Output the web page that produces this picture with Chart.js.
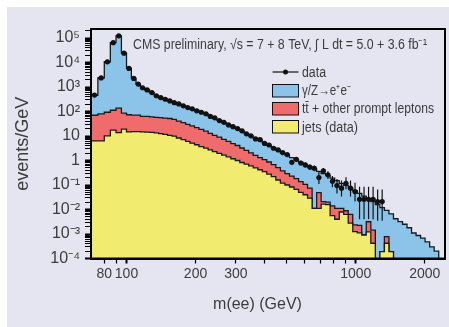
<!DOCTYPE html>
<html>
<head>
<meta charset="utf-8">
<title>Dielectron invariant mass</title>
<script src="https://cdn.jsdelivr.net/npm/chart.js@4.4.1/dist/chart.umd.min.js"></script>
<style>
  html, body { margin: 0; padding: 0; background: #fff; }
  #wrap { width: 449px; height: 327px; }
</style>
</head>
<body>
<div id="wrap"><canvas id="massChart" width="449" height="327"></canvas></div>
<script>
// bin edges of the mass histogram (GeV)
const massEdges = [70, 75, 80, 85, 90, 95, 100, 105, 110, 115, 120, 126, 132, 138, 144, 151, 158, 165, 173, 181,
  189, 198, 207, 217, 227, 237, 248, 260, 272, 285, 298, 312, 326, 341, 357, 374, 391, 409, 428, 448,
  469, 491, 514, 538, 563, 589, 616, 645, 675, 706, 739, 773, 809, 847, 886, 927, 970, 1015, 1062, 1111,
  1163, 1217, 1274, 1333, 1395, 1460, 1528, 1599, 1673, 1751, 1832, 1917, 2006, 2100, 2198, 2300];

// events / GeV per bin, one value per bin
const jets = [6.3, 6.3, 10.2, 17.4, 13.8, 19.1, 14.8, 15.1, 15.1, 14.8,
  14.5, 14.1, 13.5, 12.6, 11.7, 10.7, 9.8, 8.3, 7.1, 6.0,
  5.1, 4.4, 3.7, 3.2, 2.7, 2.3, 1.95, 1.66, 1.41, 1.18,
  1.0, 0.83, 0.71, 0.60, 0.50, 0.42, 0.35, 0.28, 0.22, 0.16,
  0.12, 0.10, 0.083, 0.066, 0.050, 0.040, 0.029, 0.0112, 0.0112, 0.0166,
  0.0158, 0.0056, 0.0040, 0.0079, 0.0063, 0.0028, 0.00126, 0.00112, 0.00091, 0.00123,
  0.00042, 0, 0.00019, 0.00042, 0.00019, 0, 0, 0, 0, 0,
  0, 0, 0, 0, 0];

const ttbar = [64, 73, 83, 95, 124, 66, 59, 56, 56, 48,
  49, 46, 44, 44, 42, 41, 38, 32, 28, 24,
  21, 17.5, 14.9, 12.6, 10.2, 8.4, 7.0, 5.6, 4.6, 3.7,
  3.1, 2.4, 1.86, 1.44, 1.12, 0.90, 0.73, 0.59, 0.46, 0.35,
  0.26, 0.19, 0.146, 0.116, 0.088, 0.067, 0.045, 0, 0.038, 0.0043,
  0.0042, 0.0085, 0.0072, 0.0033, 0.0026, 0.0035, 0.00108, 0.00112, 0, 0.00193,
  0.00103, 0, 0, 0.00036, 0, 0, 0, 0, 0, 0,
  0, 0, 0, 0, 0];

const dyee = [400, 2260, 10630, 64500, 122900, 23900, 5680, 2170, 1250, 870,
  700, 530, 380, 316, 262, 218, 181, 159, 135, 118,
  100, 88, 75, 64, 52, 43, 35, 28, 23, 18.5,
  15.9, 12.6, 10.0, 8.0, 6.3, 5.6, 4.2, 3.3, 2.6, 2.1,
  1.62, 1.37, 1.09, 0.87, 0.69, 0.57, 0.48, 0.43, 0.31, 0.27,
  0.22, 0.177, 0.140, 0.106, 0.087, 0.070, 0.057, 0.043, 0.034, 0.024,
  0.0195, 0.0158, 0.0118, 0.0085, 0.0064, 0.0042, 0.0032, 0.0025, 0.0018, 0.0011,
  0.00087, 0.00068, 0.00048, 0.0003, 0.0002];

const dataVals = [470, 2340, 10700, 64600, 123000, 24000, 5750, 2240, 1320, 930,
  760, 590, 440, 370, 316, 270, 229, 204, 170, 145,
  129, 107, 93, 81, 63, 55, 42.7, 36.3, 28.2, 24,
  20, 16.2, 12.3, 10.2, 7.6, 7.1, 5.0, 4.3, 3.16, 2.7,
  2.1, 1.74, 0.85, 1.12, 0.79, 0.66, 0.54, 0.48, 0.20, 0.38,
  0.26, 0.141, 0.095, 0.074, 0.117, 0.074, 0.054, 0.026, 0.026, 0.026,
  0.026, 0.021, 0.021, null, null, null, null, null, null, null,
  null, null, null, null, null];

// error bars are only visible from this bin on
const firstErrBin = 36;
const dataErrHi = [0.55, 0.5, 0.42, 0.38, 0.33, 0.3, 0.21, 0.23, 0.19, 0.17, 0.15, 0.14, 0.17, 0.12,
  0.1, 0.09, 0.08, 0.08, 0.09, 0.08, 0.07, 0.059, 0.059, 0.059, 0.059, 0.045, 0.045];
const dataErrLo = [0.5, 0.45, 0.38, 0.34, 0.29, 0.26, 0.18, 0.2, 0.16, 0.14, 0.13, 0.12, 0.09, 0.1,
  0.085, 0.06, 0.05, 0.04, 0.05, 0.04, 0.033, 0.022, 0.022, 0.022, 0.022, 0.0175, 0.0175];

const yMajorTicks = [1e-4, 1e-3, 1e-2, 1e-1, 1, 10, 1e2, 1e3, 1e4, 1e5];
const yTickLabels = ['10⁻⁴', '10⁻³', '10⁻²', '10⁻¹', '1', '10', '10²', '10³', '10⁴', '10⁵'];
const xTickValues = [80, 90, 100, 200, 300, 400, 500, 600, 700, 800, 900, 1000, 2000];
const xLabelValues = [80, 100, 200, 300, 1000, 2000];
const xTickLabels = ['80', '100', '200', '300', '1000', '2000'];

const legendLabels = ['data', 'γ/Z→e⁺e⁻', 'tt̄ + other prompt leptons', 'jets (data)'];
const headerText = 'CMS preliminary, √s = 7 + 8 TeV, ∫ L dt = 5.0 + 3.6 fb⁻¹';

const colBlue = '#8cc4e9';
const colRed = '#f06c6c';
const colYellow = '#f1eb70';
const colBack = '#e4e5f1';
const colText = '#3c3c3c';

const xMin = 70, xMax = 2450, yMin = 1e-4, yMax = 2.33e5;
const floorVal = 1e-7; // below the axis, used for empty bins

const nBins = massEdges.length - 1;
const cumJets = jets.slice();
const cumLep = jets.map((v, i) => v + ttbar[i]);
const cumAll = cumLep.map((v, i) => v + dyee[i]);

function stepPoints(values) {
  const pts = values.map((v, i) => ({ x: massEdges[i], y: Math.max(v, floorVal) }));
  pts.push({ x: massEdges[nBins], y: floorVal });
  return pts;
}

const dataPoints = [];
dataVals.forEach((v, i) => {
  if (v !== null) dataPoints.push({ x: (massEdges[i] + massEdges[i + 1]) / 2, y: v });
});

const yTickValues = [];
yMajorTicks.forEach((m) => {
  for (let k = 1; k < 10; k++) {
    if (m * k <= yMax) yTickValues.push(m * k);
  }
});

function histDataset(label, values, color, order) {
  return {
    label,
    data: stepPoints(values),
    stepped: true,
    fill: 'start',
    backgroundColor: color,
    borderColor: '#1a1a1a',
    borderWidth: 1.3,
    pointRadius: 0,
    clip: 0,
    order,
  };
}

const fontFamily = '"Liberation Sans", Arial, sans-serif';
const narrowFamily = '"Liberation Sans Narrow", "Liberation Sans", Arial, sans-serif';

const background = {
  id: 'background',
  beforeDraw(chart) {
    const { ctx, width, height } = chart;
    ctx.save();
    ctx.fillStyle = '#ffffff';
    ctx.fillRect(0, 0, width, height);
    ctx.fillStyle = colBack;
    ctx.fillRect(7, 7, width - 7, height - 7);
    ctx.restore();
  },
};

const errorBars = {
  id: 'errorBars',
  beforeDatasetDraw(chart, args) {
    if (chart.data.datasets[args.index].label !== 'data') return;
    const { ctx, chartArea: a, scales: { x, y } } = chart;
    ctx.save();
    ctx.beginPath();
    ctx.rect(a.left, a.top, a.width, a.height);
    ctx.clip();
    ctx.strokeStyle = '#111';
    ctx.lineWidth = 1.2;
    dataVals.forEach((v, i) => {
      if (v === null) return;
      const py = y.getPixelForValue(v);
      const px = x.getPixelForValue((massEdges[i] + massEdges[i + 1]) / 2);
      ctx.beginPath();
      ctx.moveTo(x.getPixelForValue(massEdges[i]), py);
      ctx.lineTo(x.getPixelForValue(massEdges[i + 1]), py);
      const j = i - firstErrBin;
      if (j >= 0) {
        ctx.moveTo(px, y.getPixelForValue(v + dataErrHi[j]));
        ctx.lineTo(px, y.getPixelForValue(Math.max(v - dataErrLo[j], floorVal)));
      }
      ctx.stroke();
    });
    ctx.restore();
  },
};

const decorations = {
  id: 'decorations',
  afterDraw(chart) {
    const { ctx, chartArea: a } = chart;
    ctx.save();
    // frame around the plot
    ctx.strokeStyle = '#000';
    ctx.lineWidth = 2;
    ctx.strokeRect(a.left, a.top, a.right - a.left, a.bottom - a.top);

    // header
    ctx.fillStyle = colText;
    ctx.font = '14px ' + narrowFamily;
    ctx.textBaseline = 'alphabetic';
    ctx.textAlign = 'left';
    ctx.fillText(headerText, 133, 48.5, 294);

    // legend
    const lx = 272.5, lw = 26, tx = 302;
    ctx.strokeStyle = '#111';
    ctx.lineWidth = 1.2;
    ctx.beginPath();
    ctx.moveTo(lx, 72);
    ctx.lineTo(lx + lw, 72);
    ctx.stroke();
    ctx.fillStyle = '#111';
    ctx.beginPath();
    ctx.arc(lx + lw / 2, 72, 2.5, 0, Math.PI * 2);
    ctx.fill();
    [[colBlue, 84.5], [colRed, 102.5], [colYellow, 120.5]].forEach(([c, top]) => {
      ctx.fillStyle = c;
      ctx.fillRect(lx, top, lw, 12.5);
      ctx.lineWidth = 1;
      ctx.strokeRect(lx, top, lw, 12.5);
    });
    ctx.fillStyle = colText;
    ctx.font = '14px ' + narrowFamily;
    const rows = [[76.5, 24], [95, 49], [113, 132], [131.5, 56]];
    legendLabels.forEach((t, i) => ctx.fillText(t, tx, rows[i][0], rows[i][1]));

    // x-axis title
    ctx.font = '16px ' + fontFamily;
    ctx.textAlign = 'center';
    ctx.textBaseline = 'middle';
    ctx.fillText('m(ee) (GeV)', 257.5, 305);
    ctx.restore();
  },
};

const ctx = document.getElementById('massChart').getContext('2d');
const massChart = new Chart(ctx, {
  type: 'line',
  data: {
    datasets: [
      {
        label: 'data',
        data: dataPoints,
        showLine: false,
        pointRadius: 2.6,
        pointBackgroundColor: '#111',
        pointBorderColor: '#111',
        pointBorderWidth: 0,
        order: 1,
      },
      histDataset('jets (data)', cumJets, colYellow, 2),
      histDataset('tt + other prompt leptons', cumLep, colRed, 3),
      histDataset('γ/Z→ee', cumAll, colBlue, 4),
    ],
  },
  options: {
    animation: false,
    responsive: false,
    devicePixelRatio: 1,
    layout: { padding: { left: 4, right: 3, top: 29, bottom: 0 } },
    plugins: {
      legend: { display: false },
      tooltip: { enabled: false },
    },
    scales: {
      x: {
        type: 'logarithmic',
        min: xMin,
        max: xMax,
        afterBuildTicks: (scale) => {
          scale.ticks = xTickValues.map((v) => ({ value: v }));
        },
        afterFit: (scale) => { scale.height = 68.5; },
        ticks: {
          autoSkip: false,
          maxRotation: 0,
          padding: 2,
          color: colText,
          font: { family: fontFamily, size: 14 },
          callback: (value) => {
            const i = xLabelValues.indexOf(value);
            return i >= 0 ? xTickLabels[i] : '';
          },
        },
        grid: {
          drawOnChartArea: false,
          tickLength: 5,
          tickColor: '#000',
          tickWidth: (c) => (c.tick && (c.tick.value === 100 || c.tick.value === 1000) ? 2 : 1.2),
        },
        border: { display: true, color: '#000', width: 2, z: 1 },
      },
      y: {
        type: 'logarithmic',
        min: yMin,
        max: yMax,
        afterBuildTicks: (scale) => {
          scale.ticks = yTickValues.map((v) => ({ value: v }));
        },
        afterFit: (scale) => { scale.width = 87; },
        ticks: {
          autoSkip: false,
          padding: 5,
          color: colText,
          font: { family: fontFamily, size: 16 },
          callback: (value) => {
            const i = yMajorTicks.indexOf(value);
            return i >= 0 ? yTickLabels[i] : '';
          },
        },
        grid: {
          drawOnChartArea: false,
          tickLength: 6,
          tickColor: '#000',
          tickWidth: (c) => (c.tick && yMajorTicks.includes(c.tick.value) ? 2 : 1),
        },
        border: { display: true, color: '#000', width: 2, z: 1 },
        title: {
          display: true,
          text: 'events/GeV',
          color: colText,
          font: { family: fontFamily, size: 18 },
          padding: { top: 8, bottom: 0 },
        },
      },
    },
  },
  plugins: [background, errorBars, decorations],
});
</script>
</body>
</html>
